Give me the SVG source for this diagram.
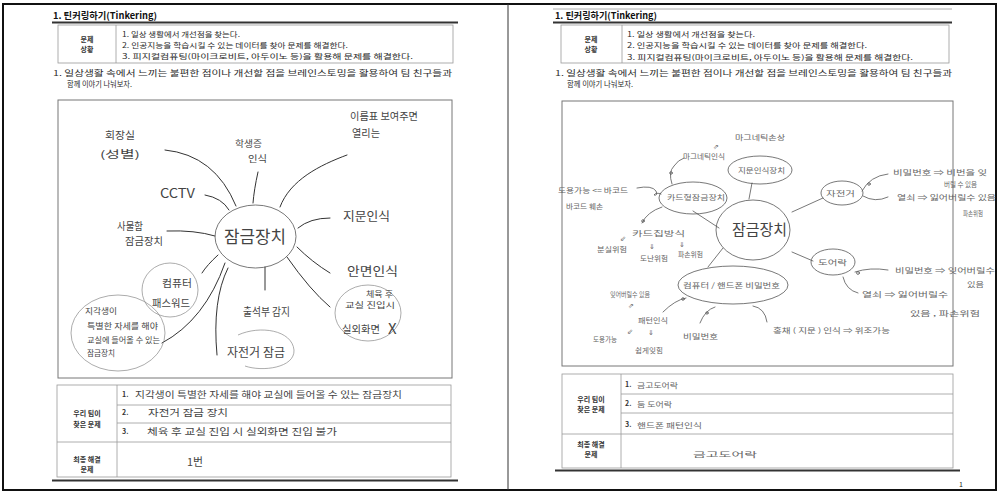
<svg xmlns="http://www.w3.org/2000/svg" width="999" height="493" viewBox="0 0 999 493">
<style>
text{font-family:"Noto Sans CJK KR","Noto Sans",sans-serif;}
.p{font-size:7px;fill:#2a2a2a;}
.b{font-size:7px;font-weight:bold;fill:#333;}
.h{font-size:9px;font-weight:bold;fill:#111;}
.hw{fill:#444;}
.hr{fill:#666;font-size:7px;}
.ln{fill:none;stroke:#333;stroke-width:1;stroke-linecap:round;}
.lr{fill:none;stroke:#555;stroke-width:0.8;stroke-linecap:round;}
.oval{fill:none;stroke:#555;stroke-width:0.8;}
.ovl{fill:none;stroke:#888;stroke-width:0.7;}
.tb{fill:none;stroke:#999;stroke-width:0.8;}
.thick{stroke:#333;stroke-width:2;}
</style>
<rect width="999" height="493" fill="#fff"/>
<g id="frame">
<rect x="3" y="4" width="993" height="486" fill="none" stroke="#111" stroke-width="2"/>
<line x1="508" y1="4" x2="508" y2="490" stroke="#333" stroke-width="1"/>
</g>

<!-- LEFT PAGE -->
<g id="left-header">
<text class="h" x="53" y="19" textLength="104" lengthAdjust="spacingAndGlyphs">1. 틴커링하기(Tinkering)</text>
<line class="thick" x1="52" y1="22.5" x2="458" y2="22.5"/>
</g>
<g id="left-situation">
<rect class="tb" x="58" y="25" width="395" height="38"/>
<line class="tb" x1="116" y1="25" x2="116" y2="63"/>
<text class="b" x="87" y="42" text-anchor="middle">문제</text>
<text class="b" x="87" y="52" text-anchor="middle">상황</text>
<text class="p" x="122" y="37" textLength="118" lengthAdjust="spacingAndGlyphs">1. 일상 생활에서 개선점을 찾는다.</text>
<text class="p" x="122" y="47.5" textLength="226" lengthAdjust="spacingAndGlyphs">2. 인공지능을 학습시킬 수 있는 데이터를 찾아 문제를 해결한다.</text>
<text class="p" x="122" y="59" textLength="291" lengthAdjust="spacingAndGlyphs">3. 피지컬컴퓨팅(마이크로비트, 아두이노 등)을 활용해 문제를 해결한다.</text>
</g>
<g id="left-prompt">
<text class="p" x="53" y="76" textLength="399" lengthAdjust="spacingAndGlyphs" style="font-size:7.5px">1. 일상생활 속에서 느끼는 불편한 점이나 개선할 점을 브레인스토밍을 활용하여 팀 친구들과</text>
<text class="p" x="67" y="87" textLength="65" lengthAdjust="spacingAndGlyphs" style="font-size:7.5px">함께 이야기 나눠보자.</text>
</g>
<rect id="left-mapbox" x="58" y="100" width="394" height="278" fill="none" stroke="#777" stroke-width="1"/>

<g id="left-connectors">
<path class="ln" d="M165,150 Q215,155 236,206"/>
<path class="ln" d="M258,172 Q254,190 253,203"/>
<path class="ln" d="M347,155 C320,165 290,180 280,207"/>
<path class="ln" d="M205,195 Q222,198 229,210"/>
<path class="ln" d="M330,218 Q310,218 298,228"/>
<path class="ln" d="M167,231 Q195,230 215,236"/>
<path class="ln" d="M297,247 Q312,262 330,273"/>
<path class="ln" d="M287,257 Q310,290 330,307"/>
<path class="ln" d="M265,267 L265,290"/>
<path class="ln" d="M228,268 Q212,300 217,355"/>
<path class="ln" d="M218,255 Q207,265 202,273"/>
<path class="ln" d="M225,263 Q205,320 162,343"/>
</g>

<g id="left-center">
<ellipse class="oval" cx="255.5" cy="236.5" rx="40.5" ry="31.5" stroke="#333" stroke-width="1"/>
<text class="hw" x="224" y="243" font-size="17" textLength="62" lengthAdjust="spacingAndGlyphs">잠금장치</text>
</g>
<g id="left-n-office">
<text class="hw" x="105" y="139" font-size="10" textLength="30" lengthAdjust="spacingAndGlyphs">회장실</text>
<text class="hw" x="100" y="158" font-size="10" textLength="40" lengthAdjust="spacingAndGlyphs">(성별)</text>
</g>
<g id="left-n-student">
<text class="hw" x="235" y="147" font-size="9" textLength="27" lengthAdjust="spacingAndGlyphs">학생증</text>
<text class="hw" x="248" y="162" font-size="9" textLength="19" lengthAdjust="spacingAndGlyphs">인식</text>
</g>
<g id="left-n-name">
<text class="hw" x="350" y="120" font-size="10" textLength="68" lengthAdjust="spacingAndGlyphs">이름표 보여주면</text>
<text class="hw" x="352" y="137" font-size="10" textLength="28" lengthAdjust="spacingAndGlyphs">열리는</text>
</g>
<g id="left-n-cctv">
<text class="hw" x="160" y="198" font-size="13" textLength="35" lengthAdjust="spacingAndGlyphs">CCTV</text>
</g>
<g id="left-n-finger">
<text class="hw" x="343" y="221" font-size="12" textLength="47" lengthAdjust="spacingAndGlyphs">지문인식</text>
</g>
<g id="left-n-locker">
<text class="hw" x="117" y="230" font-size="10" textLength="26" lengthAdjust="spacingAndGlyphs">사물함</text>
<text class="hw" x="125" y="245" font-size="10" textLength="38" lengthAdjust="spacingAndGlyphs">잠금장치</text>
</g>
<g id="left-n-face">
<text class="hw" x="347" y="276" font-size="12" textLength="51" lengthAdjust="spacingAndGlyphs">안면인식</text>
</g>
<g id="left-n-pe">
<ellipse class="ovl" cx="368" cy="313" rx="33" ry="28"/>
<text class="hw" x="366" y="297" font-size="8" textLength="27" lengthAdjust="spacingAndGlyphs">체육 후</text>
<text class="hw" x="345" y="308" font-size="8" textLength="50" lengthAdjust="spacingAndGlyphs">교실 진입시</text>
<text class="hw" x="342" y="333" font-size="10" textLength="38" lengthAdjust="spacingAndGlyphs">실외화면</text>
<text class="hw" x="388" y="334" font-size="15" font-family="Liberation Sans, sans-serif">X</text>
</g>
<g id="left-n-attend">
<text class="hw" x="243" y="316" font-size="11" textLength="47" lengthAdjust="spacingAndGlyphs">출석부 감지</text>
</g>
<g id="left-n-bike">
<path class="ovl" d="M238,335 C260,325 292,330 294,350 C295,368 262,372 245,366"/>
<text class="hw" x="227" y="357" font-size="12" textLength="58" lengthAdjust="spacingAndGlyphs">자전거 잠금</text>
</g>
<g id="left-n-pc">
<ellipse class="ovl" cx="170" cy="290" rx="28" ry="27"/>
<text class="hw" x="162" y="287" font-size="10" textLength="30" lengthAdjust="spacingAndGlyphs">컴퓨터</text>
<text class="hw" x="152" y="307" font-size="10" textLength="38" lengthAdjust="spacingAndGlyphs">패스워드</text>
</g>
<g id="left-n-late">
<ellipse class="ovl" cx="118" cy="333" rx="47" ry="38"/>
<text class="hw" x="85" y="314" font-size="8.5" textLength="32" lengthAdjust="spacingAndGlyphs">지각생이</text>
<text class="hw" x="87" y="329" font-size="8.5" textLength="71" lengthAdjust="spacingAndGlyphs">특별한 자세를 해야</text>
<text class="hw" x="87" y="343" font-size="8.5" textLength="73" lengthAdjust="spacingAndGlyphs">교실에 들어올 수 있는</text>
<text class="hw" x="87" y="356" font-size="8.5" textLength="28" lengthAdjust="spacingAndGlyphs">잠금장치</text>
</g>

<g id="left-result">
<rect class="tb" x="57" y="385" width="394" height="92"/>
<line class="tb" x1="117" y1="385" x2="117" y2="477"/>
<line class="tb" x1="117" y1="405" x2="451" y2="405"/>
<line class="tb" x1="117" y1="423" x2="451" y2="423"/>
<line class="tb" x1="57" y1="442" x2="451" y2="442"/>
<text class="b" x="87" y="416" text-anchor="middle">우리 팀이</text>
<text class="b" x="87" y="427" text-anchor="middle">찾은 문제</text>
<text class="b" x="87" y="462" text-anchor="middle">최종 해결</text>
<text class="b" x="87" y="472" text-anchor="middle">문제</text>
<text class="b" x="122" y="397" font-size="6">1.</text>
<text class="b" x="122" y="415" font-size="6">2.</text>
<text class="b" x="122" y="434" font-size="6">3.</text>
<text class="hw" x="135" y="398" font-size="9" textLength="267" lengthAdjust="spacingAndGlyphs">지각생이 특별한 자세를 해야 교실에 들어올 수 있는 잠금장치</text>
<text class="hw" x="148" y="416" font-size="9.5" textLength="80" lengthAdjust="spacingAndGlyphs">자전거 잠금 장치</text>
<text class="hw" x="147" y="435" font-size="9.5" textLength="190" lengthAdjust="spacingAndGlyphs">체육 후 교실 진입 시 실외화면 진입 불가</text>
<text class="hw" x="187" y="466" font-size="11" textLength="16" lengthAdjust="spacingAndGlyphs">1번</text>
<line class="thick" x1="52" y1="480.5" x2="458" y2="480.5"/>
</g>

<!-- RIGHT PAGE -->
<g id="right-header">
<line x1="553" y1="9" x2="952" y2="9" stroke="#999" stroke-width="0.8"/>
<text class="h" x="555" y="19" textLength="102" lengthAdjust="spacingAndGlyphs">1. 틴커링하기(Tinkering)</text>
<line class="thick" x1="553" y1="22.5" x2="952" y2="22.5"/>
</g>
<g id="right-situation">
<rect class="tb" x="561" y="25" width="388" height="38"/>
<line class="tb" x1="622" y1="25" x2="622" y2="63"/>
<text class="b" x="591" y="42" text-anchor="middle">문제</text>
<text class="b" x="591" y="52" text-anchor="middle">상황</text>
<text class="p" x="627" y="36.5" textLength="128" lengthAdjust="spacingAndGlyphs">1. 일상 생활에서 개선점을 찾는다.</text>
<text class="p" x="627" y="47.5" textLength="240" lengthAdjust="spacingAndGlyphs">2. 인공지능을 학습시킬 수 있는 데이터를 찾아 문제를 해결한다.</text>
<text class="p" x="627" y="59.5" textLength="286" lengthAdjust="spacingAndGlyphs">3. 피지컬컴퓨팅(마이크로비트, 아두이노 등)을 활용해 문제를 해결한다.</text>
</g>
<g id="right-prompt">
<text class="p" x="555" y="76" textLength="397" lengthAdjust="spacingAndGlyphs" style="font-size:7.5px">1. 일상생활 속에서 느끼는 불편한 점이나 개선할 점을 브레인스토밍을 활용하여 팀 친구들과</text>
<text class="p" x="567" y="87" textLength="66" lengthAdjust="spacingAndGlyphs" style="font-size:7.5px">함께 이야기 나눠보자.</text>
</g>
<rect id="right-mapbox" x="562" y="101" width="391" height="265" fill="none" stroke="#777" stroke-width="1"/>

<g id="right-connectors">
<path class="lr" d="M752,183 L749,199"/>
<path class="lr" d="M693,211 L719,228"/>
<path class="lr" d="M792,212 L823,198"/>
<path class="lr" d="M792,252 L813,261"/>
<path class="lr" d="M708,267 L723,248"/>
<path class="lr" d="M672,184 Q668,172 674,166 Q678,160 684,158"/>
<circle class="lr" cx="671" cy="173" r="1.3"/>
<path class="lr" d="M637,188 Q652,185 656,191 Q658,196 654,195 Q656,192 661,194"/>
<path class="lr" d="M642,223 Q647,212 662,207"/>
<circle class="lr" cx="643" cy="221" r="1.3"/>
<path class="lr" d="M862,191 Q870,176 888,174"/>
<circle class="lr" cx="869" cy="184" r="1.3"/>
<path class="lr" d="M863,196 Q875,203 888,197"/>
<path class="lr" d="M855,272 Q870,267 888,270"/>
<circle class="lr" cx="858" cy="273" r="1.4"/>
<path class="lr" d="M843,277 Q846,290 858,293"/>
<path class="lr" d="M663,312 Q675,300 686,298"/>
<circle class="lr" cx="683" cy="299" r="1.3"/>
<path class="lr" d="M700,323 Q705,310 715,307"/>
<circle class="lr" cx="707" cy="313" r="1.2"/>
<path class="lr" d="M753,306 Q765,308 767,322"/>
</g>

<g id="right-center">
<ellipse class="oval" cx="753" cy="230" rx="37" ry="30" stroke="#444"/>
<text class="hw" x="732" y="235" font-size="15" textLength="55" lengthAdjust="spacingAndGlyphs" fill="#555">잠금장치</text>
</g>
<g id="right-n-finger">
<ellipse class="oval" cx="760" cy="170" rx="32" ry="14"/>
<text class="hr" x="738" y="173" textLength="47" lengthAdjust="spacingAndGlyphs">지문인식장치</text>
</g>
<g id="right-n-card">
<ellipse class="oval" cx="693" cy="198" rx="34" ry="16"/>
<text class="hr" x="667" y="200" textLength="58" lengthAdjust="spacingAndGlyphs">카드형잠금장치</text>
<text class="hr" x="683" y="159" textLength="42" lengthAdjust="spacingAndGlyphs">마그네틱인식</text>
<text class="hr" x="713" y="149" font-size="10" font-family="DejaVu Sans, sans-serif">⇗</text>
<text class="hr" x="735" y="140" textLength="50" lengthAdjust="spacingAndGlyphs">마그네틱손상</text>
<text class="hr" x="558" y="193" textLength="70" lengthAdjust="spacingAndGlyphs">도용가능 &lt;= 바코드</text>
<text class="hr" x="566" y="209" textLength="37" lengthAdjust="spacingAndGlyphs">바코드 훼손</text>
<text class="hr" x="632" y="236" font-size="9" textLength="53" lengthAdjust="spacingAndGlyphs">카드칩방식</text>
<text class="hr" x="620" y="241" font-size="7" font-family="DejaVu Sans, sans-serif">⇙</text>
<text class="hr" x="597" y="252" textLength="30" lengthAdjust="spacingAndGlyphs">분실위험</text>
<text class="hr" x="649" y="249" font-size="7" font-family="DejaVu Sans, sans-serif">⇓</text>
<text class="hr" x="640" y="261" textLength="28" lengthAdjust="spacingAndGlyphs">도난위험</text>
<text class="hr" x="679" y="247" font-size="7" font-family="DejaVu Sans, sans-serif">⇓</text>
<text class="hr" x="678" y="257" textLength="25" lengthAdjust="spacingAndGlyphs">파손위험</text>
</g>
<g id="right-n-bike">
<ellipse class="oval" cx="842" cy="193" rx="21" ry="12"/>
<text class="hr" x="826" y="196" textLength="29" lengthAdjust="spacingAndGlyphs">자전거</text>
<text class="hr" x="893" y="175" textLength="94" lengthAdjust="spacingAndGlyphs">비밀번호 ⇒ 비번을 잊</text>
<text class="hr" x="944" y="187" textLength="33" lengthAdjust="spacingAndGlyphs">버릴 수 있음</text>
<text class="hr" x="897" y="200" textLength="99" lengthAdjust="spacingAndGlyphs">열쇠 ⇒ 잃어버릴수 있음</text>
<text class="hr" x="963" y="216" textLength="20" lengthAdjust="spacingAndGlyphs">파손위험</text>
</g>
<g id="right-n-door">
<ellipse class="oval" cx="833" cy="262" rx="22" ry="13"/>
<text class="hr" x="818" y="265" textLength="29" lengthAdjust="spacingAndGlyphs">도어락</text>
<text class="hr" x="895" y="273" textLength="100" lengthAdjust="spacingAndGlyphs">비밀번호 ⇒ 잊어버릴수</text>
<text class="hr" x="967" y="287" textLength="17" lengthAdjust="spacingAndGlyphs">있음</text>
<text class="hr" x="862" y="297" textLength="86" lengthAdjust="spacingAndGlyphs">열쇠 ⇒ 잃어버릴수</text>
<text class="hr" x="910" y="316" textLength="70" lengthAdjust="spacingAndGlyphs">있음 , 파손위험</text>
</g>
<g id="right-n-pc">
<ellipse class="oval" cx="733" cy="285" rx="55" ry="19"/>
<text class="hr" x="683" y="288" font-size="8" textLength="97" lengthAdjust="spacingAndGlyphs">컴퓨터 / 핸드폰 비밀번호</text>
<text class="hr" x="610" y="297" font-size="6.5" textLength="40" lengthAdjust="spacingAndGlyphs">잊어버릴수 있음</text>
<text class="hr" x="628" y="308" font-size="8" font-family="DejaVu Sans, sans-serif">⇗</text>
<text class="hr" x="638" y="323" textLength="30" lengthAdjust="spacingAndGlyphs">패턴인식</text>
<text class="hr" x="627" y="334" font-size="10" font-family="DejaVu Sans, sans-serif">⇙</text>
<text class="hr" x="648" y="335" font-size="7" font-family="DejaVu Sans, sans-serif">⇓</text>
<text class="hr" x="593" y="342" textLength="24" lengthAdjust="spacingAndGlyphs">도용가능</text>
<text class="hr" x="635" y="353" textLength="28" lengthAdjust="spacingAndGlyphs">쉽게잊힘</text>
<text class="hr" x="683" y="339" font-size="8.5" textLength="35" lengthAdjust="spacingAndGlyphs">비밀번호</text>
<text class="hr" x="773" y="333" textLength="117" lengthAdjust="spacingAndGlyphs">홍채 ( 지문 ) 인식 ⇒ 위조가능</text>
</g>

<g id="right-result">
<rect class="tb" x="562" y="374" width="391" height="94"/>
<line class="tb" x1="621" y1="374" x2="621" y2="468"/>
<line class="tb" x1="621" y1="394" x2="953" y2="394"/>
<line class="tb" x1="621" y1="413" x2="953" y2="413"/>
<line class="tb" x1="562" y1="434" x2="953" y2="434"/>
<text class="b" x="591" y="402" text-anchor="middle">우리 팀이</text>
<text class="b" x="591" y="412" text-anchor="middle">찾은 문제</text>
<text class="b" x="591" y="447" text-anchor="middle">최종 해결</text>
<text class="b" x="591" y="457" text-anchor="middle">문제</text>
<text class="b" x="625" y="387" font-size="6">1.</text>
<text class="b" x="625" y="406" font-size="6">2.</text>
<text class="b" x="625" y="427" font-size="6">3.</text>
<text class="hr" x="637" y="388" font-size="7.5" textLength="41" lengthAdjust="spacingAndGlyphs">금고도어락</text>
<text class="hr" x="637" y="407" font-size="7.5" textLength="35" lengthAdjust="spacingAndGlyphs">둠 도어락</text>
<text class="hr" x="637" y="428" font-size="7.5" textLength="65" lengthAdjust="spacingAndGlyphs">핸드폰 패턴인식</text>
<text class="hr" x="693" y="457" font-size="14" textLength="64" lengthAdjust="spacingAndGlyphs">금고도어락</text>
<line class="thick" x1="555" y1="470.5" x2="960" y2="470.5"/>
<text x="959" y="487" font-size="7" font-family="Liberation Serif, serif" fill="#222">1</text>
</g>
</svg>
